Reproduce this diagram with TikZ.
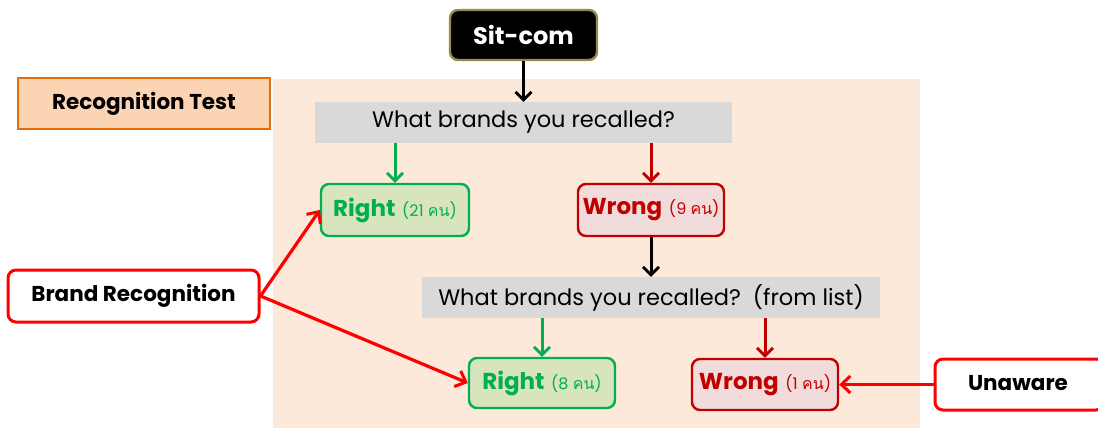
\documentclass[tikz,border=0pt]{standalone}
\usepackage{fontspec}
\setmainfont{Poppins}
\newfontfamily\thaifont[Script=Thai]{Loma}
\usetikzlibrary{arrows.meta}
\definecolor{peach}{HTML}{FDE9D9}
\definecolor{testfill}{HTML}{FBD4B4}
\definecolor{testline}{HTML}{E46C0A}
\definecolor{qgray}{HTML}{D9D9D9}
\definecolor{okgreen}{HTML}{00B050}
\definecolor{okfill}{HTML}{D7E4BD}
\definecolor{badred}{HTML}{C00000}
\definecolor{badfill}{HTML}{F2DCDB}
\definecolor{hotred}{HTML}{FF0000}
\definecolor{olive}{HTML}{948A54}
\tikzset{
  box/.style={rounded corners=8pt, inner sep=0pt, align=center},
  question/.style={fill=qgray, inner sep=0pt, font=\fontsize{22.5}{26}\selectfont},
  okbox/.style={box, draw=okgreen, line width=2.4pt, fill=okfill, text=okgreen,
     minimum width=146pt, minimum height=50pt},
  badbox/.style={box, draw=badred, line width=2.4pt, fill=badfill, text=badred,
     minimum width=146pt, minimum height=50pt},
  labelbox/.style={box, draw=hotred, line width=3pt, fill=white, minimum height=50pt},
  labeltext/.style={font=\bfseries\fontsize{21.5}{25}\selectfont},
  flow/.style={line width=3pt, -{Straight Barb[length=8pt,width=16pt,line width=2.8pt]}},
  link/.style={line width=3.2pt, hotred, -{Straight Barb[length=9pt,width=17pt,line width=3pt]}},
}
\newcommand{\tally}[1]{{\fontsize{16}{18}\selectfont(#1 {\thaifont คน})}}
\newcommand{\verdict}[1]{{\bfseries\fontsize{23}{26}\selectfont #1}\hspace{4pt}}
\begin{document}
\begin{tikzpicture}[x=1pt,y=-1pt]
\useasboundingbox (0,0) rectangle (1098,428);
% shaded test area
\fill[peach] (273,79) rectangle (920,428);

% nodes
\node[box, fill=black, draw=olive, line width=2.4pt, text=white,
      minimum width=147pt, minimum height=50pt,
      font=\bfseries\fontsize{24}{27}\selectfont] (sitcom) at (523.5,35) {Sit-com};
\node[draw=testline, line width=2.2pt, fill=testfill, inner sep=0pt,
      minimum width=252pt, minimum height=51pt, labeltext] (rtest) at (144,103.5) {Recognition Test};
\node[question, minimum width=417pt, minimum height=41pt] (q1) at (523.5,122.5)
      {What brands you recalled?};
\node[okbox, minimum width=148pt, minimum height=52pt] (r1) at (395,210)
      {\verdict{Right} \tally{21}};
\node[badbox, minimum height=52pt] (w1) at (651,210)
      {\verdict{Wrong} \tally{9}};
\node[question, minimum width=458pt, minimum height=41pt] (q2) at (651,297.5)
      {What brands you recalled?\ \ (from list)};
\node[okbox] (r2) at (542,383)
      {\verdict{Right} \tally{8}};
\node[badbox, minimum height=51pt] (w2) at (765,384.5)
      {\verdict{Wrong} \tally{1}};
\node[labelbox, minimum width=251pt, minimum height=52pt, labeltext] (brand) at (133.5,296)
      {Brand Recognition};
\node[labelbox, minimum width=169pt, minimum height=51pt] (unaware) at (1019.5,384.5) {};
\node[labeltext] (unawaretext) at (1018,383) {Unaware};

% flow arrows
\draw[flow] (sitcom.south) -- (q1.north -| sitcom.south);
\draw[flow, okgreen] (r1.north |- q1.south) -- (r1.north);
\draw[flow, badred] (w1.north |- q1.south) -- (w1.north);
\draw[flow] (w1.south) -- (q2.north -| w1.south);
\draw[flow, okgreen] (r2.north |- q2.south) -- (r2.north);
\draw[flow, badred] (w2.north |- q2.south) -- (w2.north);

% category links
\draw[link] (brand.east) -- (r1.west);
\draw[link] (brand.east) -- (r2.west);
\draw[link] (unaware.west) -- (w2.east);
\end{tikzpicture}
\end{document}
